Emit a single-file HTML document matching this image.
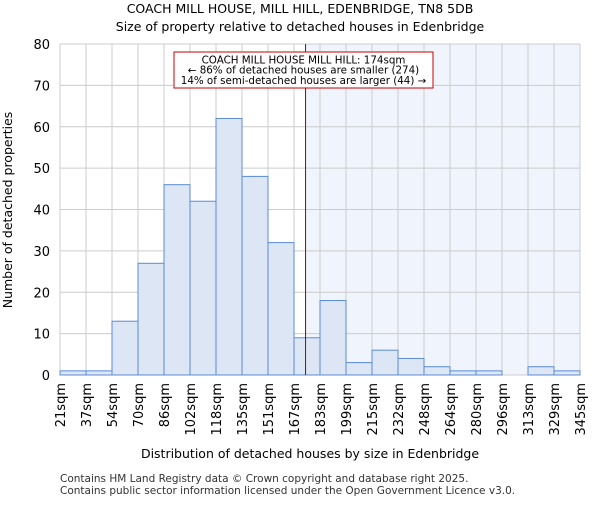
<!DOCTYPE html>
<html><head><meta charset="utf-8"><style>
body{margin:0;background:#fff;font-family:"Liberation Sans","DejaVu Sans",sans-serif}
text{font-family:"DejaVu Sans","Liberation Sans",sans-serif}
</style></head><body>
<svg id="c" width="600" height="500" xmlns="http://www.w3.org/2000/svg">
<text x="300" y="13" text-anchor="middle" font-size="12.5">COACH MILL HOUSE, MILL HILL, EDENBRIDGE, TN8 5DB</text>
<text x="300" y="31" text-anchor="middle" font-size="12.5">Size of property relative to detached houses in Edenbridge</text>
<g id="plot"></g>
<text x="310" y="458" text-anchor="middle" font-size="12.5">Distribution of detached houses by size in Edenbridge</text>
<text transform="translate(12,210) rotate(-90)" text-anchor="middle" font-size="12.5">Number of detached properties</text>
<text x="60" y="482" font-size="10.5" fill="#333">Contains HM Land Registry data © Crown copyright and database right 2025.</text>
<text x="60" y="494" font-size="10.5" fill="#333">Contains public sector information licensed under the Open Government Licence v3.0.</text>
</svg>
<script>
const binLabels=["21sqm","37sqm","54sqm","70sqm","86sqm","102sqm","118sqm","135sqm","151sqm","167sqm","183sqm","199sqm","215sqm","232sqm","248sqm","264sqm","280sqm","296sqm","313sqm","329sqm","345sqm"];
const counts=[1,1,13,27,46,42,62,48,32,9,18,3,6,4,2,1,1,0,2,1];
const yTicks=[0,10,20,30,40,50,60,70,80];
const subjectSize=174;
const xMin=21,xMax=345;
const L=60,R=580,T=44,B=375,yMax=80;
const NS="http://www.w3.org/2000/svg";
const g=document.getElementById('plot');
function x(i){return L+(R-L)*i/counts.length;}
function xv(v){return L+(R-L)*(v-xMin)/(xMax-xMin);}
function y(v){return B-(B-T)*v/yMax;}
function mk(t,a,p){const e=document.createElementNS(NS,t);for(const k in a)e.setAttribute(k,a[k]);(p||g).appendChild(e);return e;}
const sx=xv(subjectSize);
let sh=mk('rect',{x:sx,y:T,width:R-sx,height:B-T,fill:'#f0f4fc'});


for(let i=0;i<=counts.length;i++){let l=mk('line',{x1:x(i),x2:x(i),y1:T,y2:B,stroke:'#cccccc','stroke-width':1});

}
yTicks.forEach(v=>{let l=mk('line',{x1:L,x2:R,y1:y(v),y2:y(v),stroke:'#cccccc','stroke-width':1});


let t=mk('text',{x:L-10,y:y(v)+5,'text-anchor':'end','font-size':13});t.textContent=v;

});
counts.forEach((c,i)=>{let r=mk('rect',{x:x(i),y:y(c),width:x(i+1)-x(i),height:B-y(c),fill:'#dce6f4',stroke:'#5b8bd6','stroke-width':1});

});
binLabels.forEach((s,i)=>{let t=mk('text',{transform:`translate(${x(i)+5},${B+8}) rotate(-90)`,'text-anchor':'end','font-size':13});t.textContent=s;

});
let ln=mk('line',{x1:sx,x2:sx,y1:T,y2:B,stroke:'#990000','stroke-width':1});


let bx=mk('rect',{x:174,y:52,width:259,height:36,fill:'#fff',stroke:'#cc0000','stroke-width':1});


["COACH MILL HOUSE MILL HILL: 174sqm","← 86% of detached houses are smaller (274)","14% of semi-detached houses are larger (44) →"].forEach((s,i)=>{
let t=mk('text',{x:303.5,y:63.5+i*10.2,'text-anchor':'middle','font-size':10.3});t.textContent=s;

});
</script>
</body></html>
